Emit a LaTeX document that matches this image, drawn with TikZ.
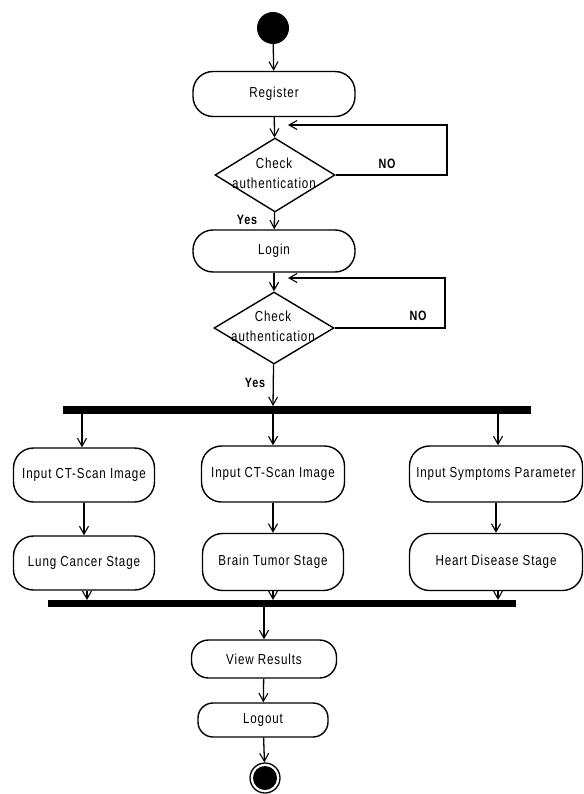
\documentclass[tikz,border=0pt]{standalone}
\usepackage{fontspec}
\setmainfont{Liberation Sans}
\newfontfamily\narrowfont[FakeStretch=0.8, LetterSpace=6]{Liberation Sans}
\usetikzlibrary{arrows.meta,shapes.geometric}
\tikzset{
	activity/.style={draw, line width=1.4pt, rounded corners=20pt, minimum height=44pt, inner sep=0pt, font=\narrowfont\fontsize{14.5}{16}\selectfont},
	decision/.style={draw, line width=1.4pt, diamond, minimum width=120pt, minimum height=74pt, inner sep=0pt},
	dectext/.style={align=center, font=\narrowfont\fontsize{14.5}{20}\selectfont},
	flow/.style={line width=1.3pt, -{Straight Barb[length=8pt, width=9pt, line width=1.1pt]}},
	bar/.style={fill=black},
	lbl/.style={font=\narrowfont\fontsize{13.5}{15}\selectfont\bfseries}
}
\begin{document}
\begin{tikzpicture}[x=1pt, y=-1pt]
		%%%%% START %%%%%
		\useasboundingbox (0, 0) rectangle (583, 794);
		
		\node[circle, fill=black, minimum size=32pt, inner sep=0pt] (start) at (273, 28) {};
		\node[activity, minimum width=162pt, minimum height=45pt] (reg) at (274, 94) {Register};
		
		\node[decision] (chka) at (275, 175) {};
		\node[dectext] (chkatxt) at (274, 173) {Check\\authentication};
		\coordinate (loopa) at (288, 125);
		
		\node[activity, minimum width=162pt, minimum height=42pt] (login) at (274, 251) {Login};
		
		\node[decision, minimum height=72pt] (chkb) at (274, 328) {};
		\node[dectext] (chkbtxt) at (273, 326) {Check\\authentication};
		\coordinate (loopb) at (288, 278);
		
		% fork and join bars
		\draw[bar] (63, 406) rectangle (530, 413);
		\draw[bar] (48, 600) rectangle (515, 606);
		\coordinate (forkm) at (273, 406);
		\coordinate (forkl) at (82, 413);
		\coordinate (forkc) at (273, 413);
		\coordinate (forkr) at (498, 413);
		\coordinate (joinl) at (87, 600);
		\coordinate (joinc) at (273, 600);
		\coordinate (joinr) at (498, 600);
		\coordinate (joinm) at (264, 606);
		
		\node[activity, minimum width=141pt, minimum height=54pt] (ctl) at (84, 475) {Input CT-Scan Image};
		\node[activity, minimum width=141pt, minimum height=54pt] (lung) at (84, 563) {Lung Cancer Stage};
		\node[activity, minimum width=143pt, minimum height=56pt] (ctc) at (273, 474) {Input CT-Scan Image};
		\node[activity, minimum width=141pt, minimum height=57pt] (brain) at (273, 562) {Brain Tumor Stage};
		\node[activity, minimum width=173pt, minimum height=56pt] (symp) at (496, 474) {Input Symptoms Parameter};
		\node[activity, minimum width=173pt, minimum height=57pt] (heart) at (496, 562) {Heart Disease Stage};
		
		\node[activity, minimum width=145pt, minimum height=38pt, rounded corners=17pt] (view) at (264, 659) {View Results};
		\node[activity, minimum width=130pt, minimum height=34pt, rounded corners=15pt] (logout) at (263, 720) {Logout};
		
		\node[circle, draw, line width=1.3pt, minimum size=30pt, inner sep=0pt] (stop) at (265, 778) {};
		\node[circle, fill=black, minimum size=24pt, inner sep=0pt] (stopin) at (stop) {};
		
		% connectors
		\draw[flow] (start) -- (reg);
		\draw[flow] (reg) -- (chka);
		\draw[flow] (chka.east) -- (447, 175) -- (447, 125) -- (loopa);
		\node[lbl] (noa) at (387, 164) {NO};
		\draw[flow] (chka) -- (login);
		\node[lbl] (yesa) at (247, 220) {Yes};
		\draw[flow] (login) -- (chkb);
		\draw[flow] (chkb.east) -- (445, 328) -- (445, 278) -- (loopb);
		\node[lbl] (nob) at (418, 316) {NO};
		\draw[flow] (chkb) -- (forkm);
		\node[lbl] (yesb) at (255, 383) {Yes};
		
		\draw[flow] (forkl) -- (forkl |- ctl.north);
		\draw[flow] (forkc) -- (ctc);
		\draw[flow] (forkr) -- (forkr |- symp.north);
		\draw[flow] (ctl) -- (lung);
		\draw[flow] (ctc) -- (brain);
		\draw[flow] (symp) -- (heart);
		\draw[flow] (joinl |- lung.south) -- (joinl);
		\draw[flow] (brain) -- (joinc);
		\draw[flow] (joinr |- heart.south) -- (joinr);
		
		\draw[flow] (joinm) -- (view);
		\draw[flow] (view) -- (logout);
		\draw[flow] (logout) -- (stop);
		%%%%% END %%%%%
\end{tikzpicture}
\end{document}
